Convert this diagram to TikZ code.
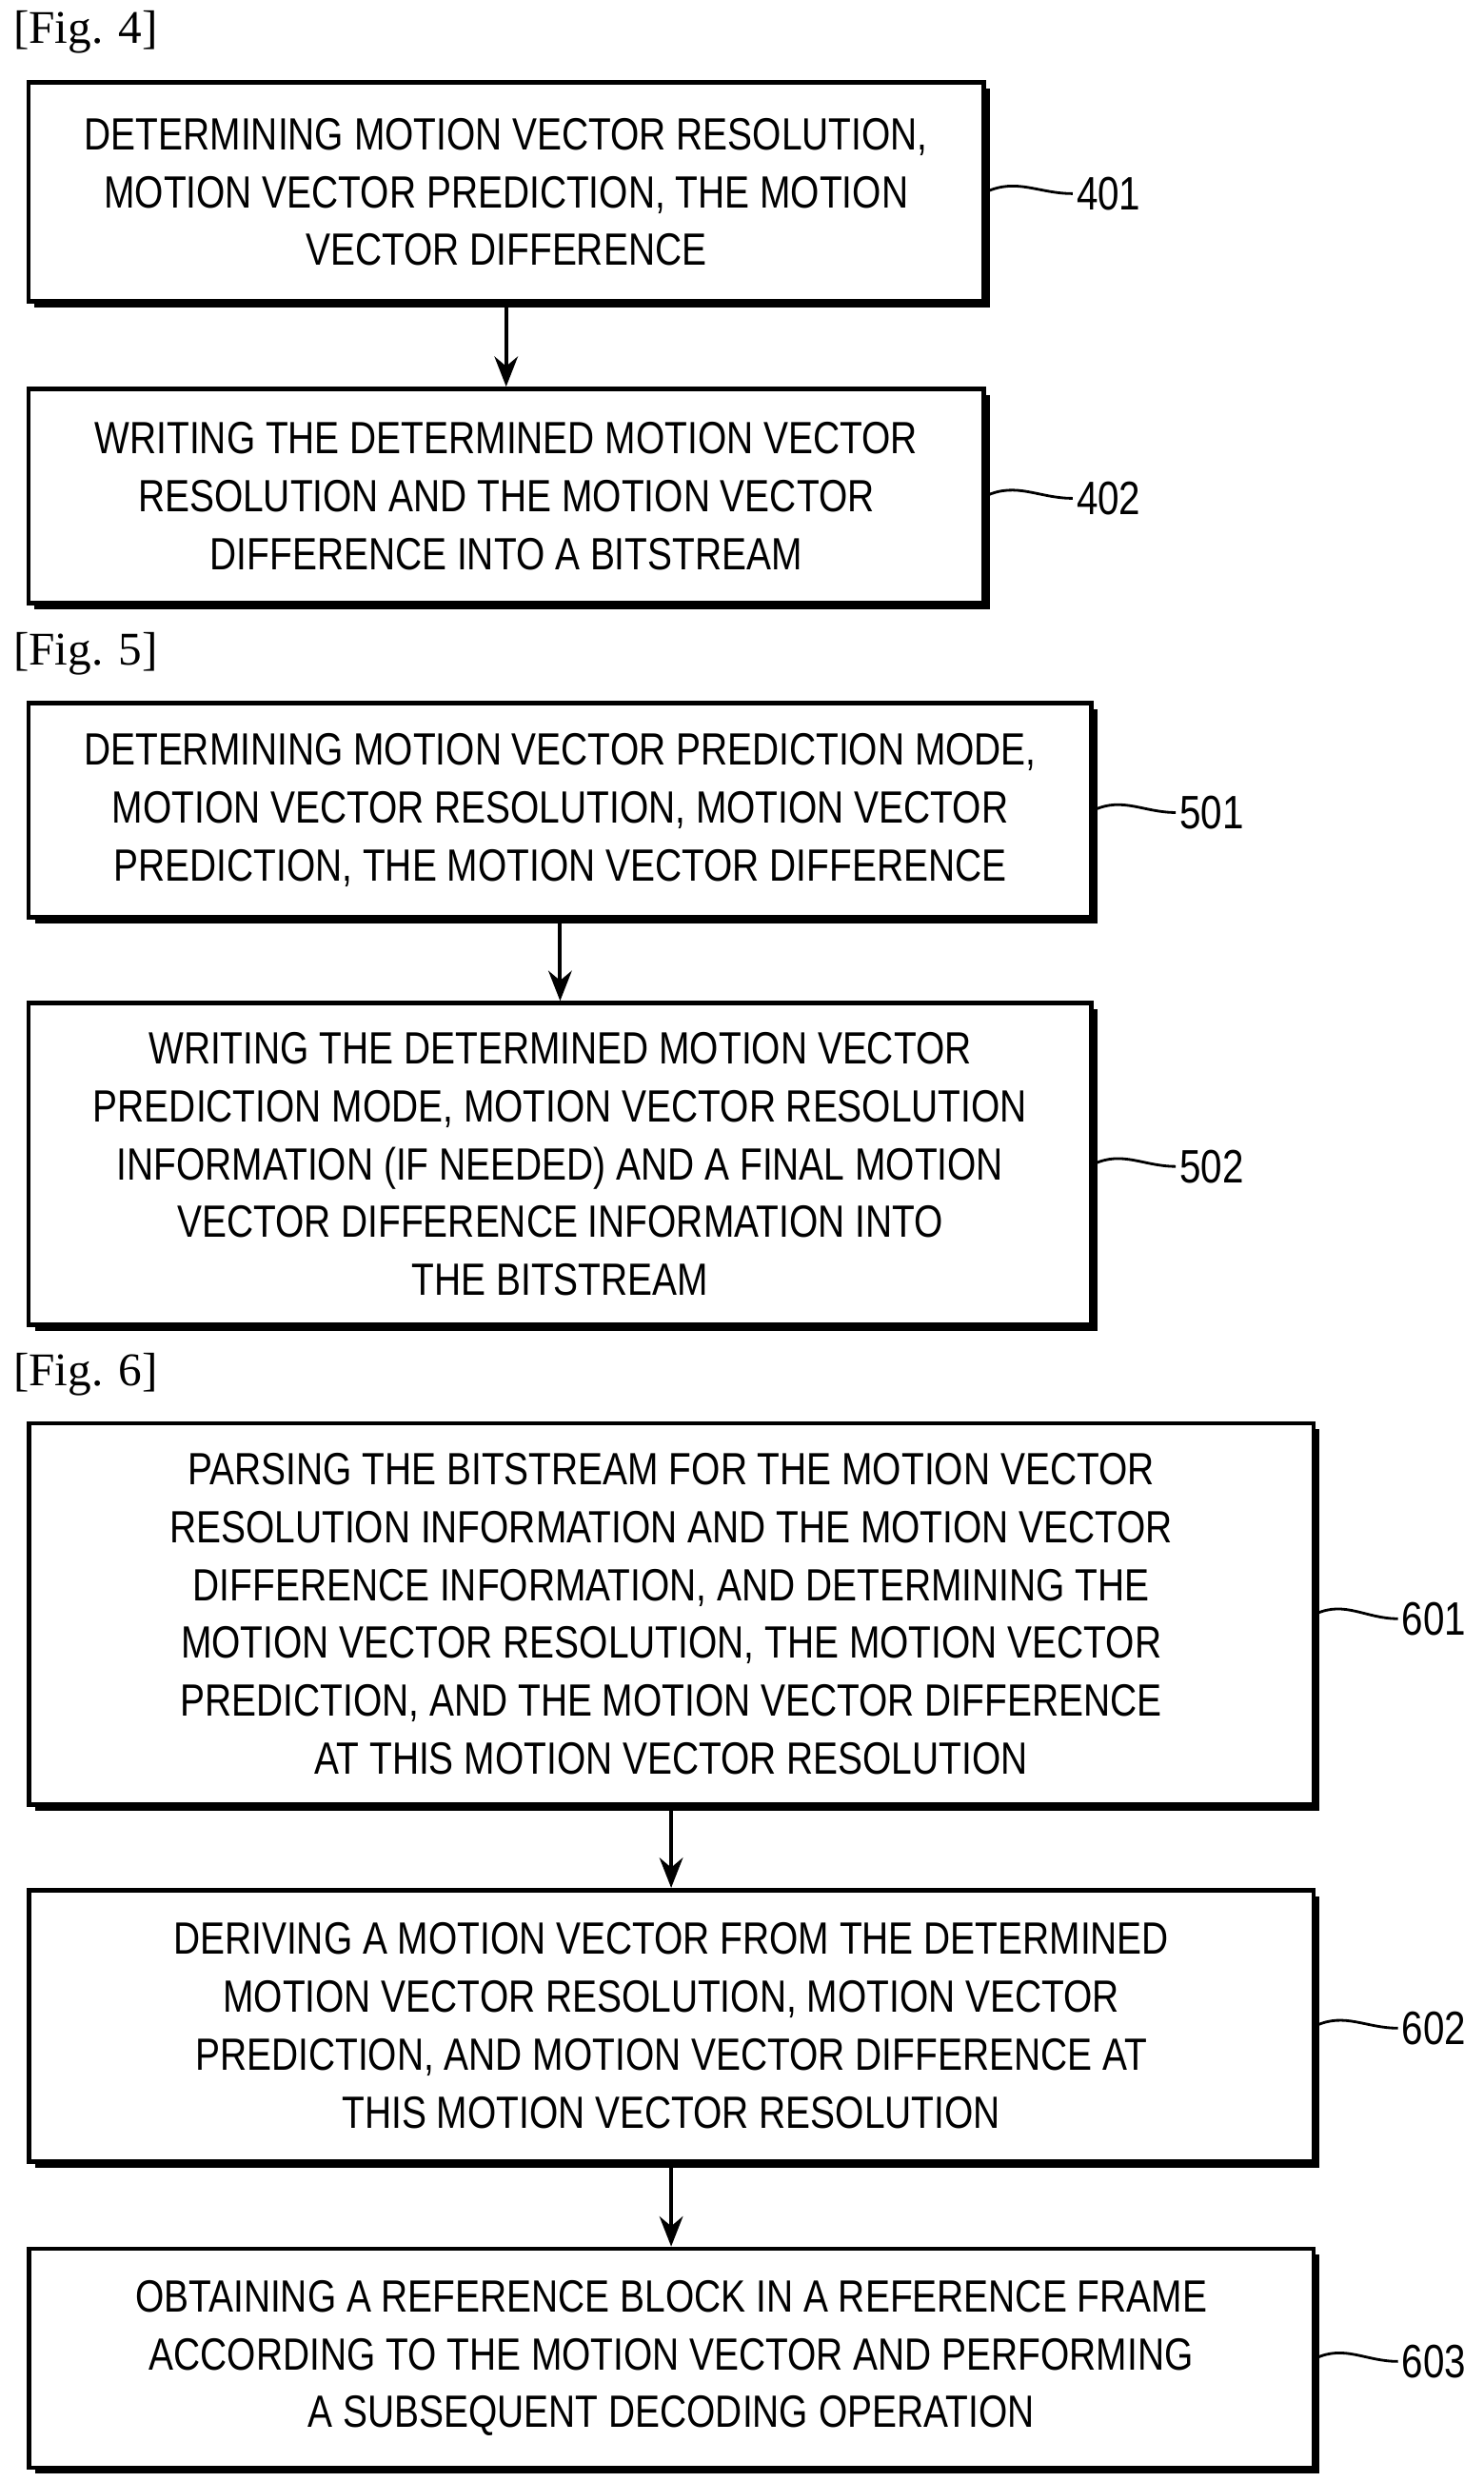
\documentclass[tikz,border=0pt]{standalone}
\usepackage{fontspec}
\setmainfont{Liberation Serif}
\newfontfamily\boxfont[FakeStretch=0.82]{Liberation Sans}
\usetikzlibrary{arrows.meta,shadows}

\begin{document}
\begin{tikzpicture}[x=0.01666cm,y=-0.01666cm,>={Stealth[length=9pt,width=7pt]},
  stepbox/.style={draw,line width=1.3pt,fill=white,align=center,inner sep=0pt,
    font=\boxfont\fontsize{13.5}{17.3}\selectfont,
    drop shadow={shadow xshift=1.8pt,shadow yshift=-1.8pt,opacity=1,fill=black}},
  num/.style={font=\boxfont\fontsize{14}{16}\selectfont,anchor=west,inner sep=1pt},
  fig/.style={font=\fontsize{14}{16}\selectfont,anchor=west,inner sep=0pt},
  lead/.style={line width=0.8pt}]

\useasboundingbox (0,0) rectangle (935,1564);

% Fig. 4
\node[fig] (f4) at (8,20) {[Fig. 4]};
\node[stepbox,minimum width=10.03cm,minimum height=2.30cm] (b401) at (319,121)
  {DETERMINING MOTION VECTOR RESOLUTION,\\MOTION VECTOR PREDICTION, THE MOTION\\VECTOR DIFFERENCE};
\node[stepbox,minimum width=10.03cm,minimum height=2.25cm] (b402) at (319,312.5)
  {WRITING THE DETERMINED MOTION VECTOR\\RESOLUTION AND THE MOTION VECTOR\\DIFFERENCE INTO A BITSTREAM};
\node[num] (l401) at (676,122) {401};
\node[num] (l402) at (676,314) {402};

% Fig. 5
\node[fig] (f5) at (8,412) {[Fig. 5]};
\node[stepbox,minimum width=11.16cm,minimum height=2.25cm] (b501) at (353,510.5)
  {DETERMINING MOTION VECTOR PREDICTION MODE,\\MOTION VECTOR RESOLUTION, MOTION VECTOR\\PREDICTION, THE MOTION VECTOR DIFFERENCE};
\node[stepbox,minimum width=11.16cm,minimum height=3.38cm] (b502) at (353,733.5)
  {WRITING THE DETERMINED MOTION VECTOR\\PREDICTION MODE, MOTION VECTOR RESOLUTION\\INFORMATION (IF NEEDED) AND A FINAL MOTION\\VECTOR DIFFERENCE INFORMATION INTO\\THE BITSTREAM};
\node[num] (l501) at (741,512) {501};
\node[num] (l502) at (741,735) {502};

% Fig. 6
\node[fig] (f6) at (8,866) {[Fig. 6]};
\node[stepbox,minimum width=13.49cm,minimum height=4.0cm] (b601) at (423,1017)
  {PARSING THE BITSTREAM FOR THE MOTION VECTOR\\RESOLUTION INFORMATION AND THE MOTION VECTOR\\DIFFERENCE INFORMATION, AND DETERMINING THE\\MOTION VECTOR RESOLUTION, THE MOTION VECTOR\\PREDICTION, AND THE MOTION VECTOR DIFFERENCE\\AT THIS MOTION VECTOR RESOLUTION};
\node[stepbox,minimum width=13.49cm,minimum height=2.85cm] (b602) at (423,1276.5)
  {DERIVING A MOTION VECTOR FROM THE DETERMINED\\MOTION VECTOR RESOLUTION, MOTION VECTOR\\PREDICTION, AND MOTION VECTOR DIFFERENCE AT\\THIS MOTION VECTOR RESOLUTION};
\node[stepbox,minimum width=13.49cm,minimum height=2.30cm] (b603) at (423,1486)
  {OBTAINING A REFERENCE BLOCK IN A REFERENCE FRAME\\ACCORDING TO THE MOTION VECTOR AND PERFORMING\\A SUBSEQUENT DECODING OPERATION};
\node[num] (l601) at (881,1020) {601};
\node[num] (l602) at (881,1278) {602};
\node[num] (l603) at (881,1488) {603};

% arrows
\draw[->,line width=1.1pt] (b401) -- (b402);
\draw[->,line width=1.1pt] (b501) -- (b502);
\draw[->,line width=1.1pt] (b601) -- (b602);
\draw[->,line width=1.1pt] (b602) -- (b603);

% leaders
\foreach \b in {401,402,501,502,601,602,603}
  \draw[lead] (b\b.east) to[out=25,in=180] (l\b.west);

\end{tikzpicture}
\end{document}
